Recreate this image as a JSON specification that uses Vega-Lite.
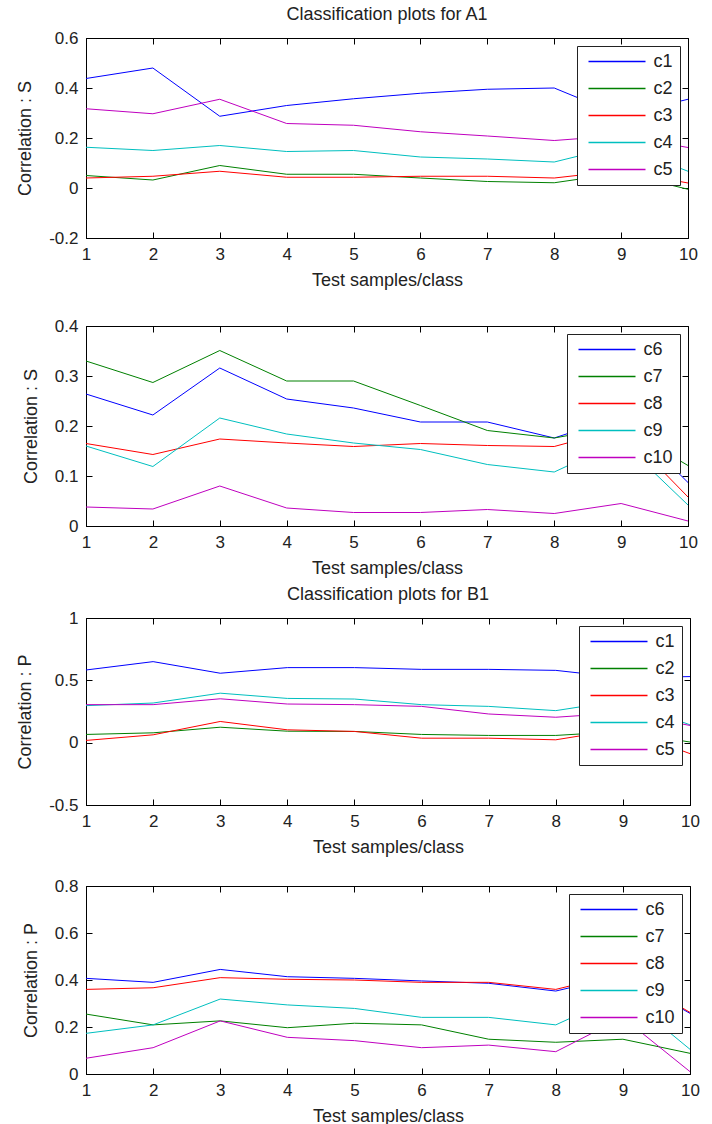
{
  "$schema": "https://vega.github.io/schema/vega-lite/v6.json",
  "background": "white",
  "padding": {"left": 16, "top": 5, "right": 5, "bottom": 0},
  "datasets": {
    "a1": [
      {"sample":1,"cls":"c1","corr":0.438},{"sample":2,"cls":"c1","corr":0.48},{"sample":3,"cls":"c1","corr":0.287},{"sample":4,"cls":"c1","corr":0.33},{"sample":5,"cls":"c1","corr":0.357},{"sample":6,"cls":"c1","corr":0.379},{"sample":7,"cls":"c1","corr":0.395},{"sample":8,"cls":"c1","corr":0.40},{"sample":9,"cls":"c1","corr":0.29},{"sample":10,"cls":"c1","corr":0.355},
      {"sample":1,"cls":"c2","corr":0.05},{"sample":2,"cls":"c2","corr":0.032},{"sample":3,"cls":"c2","corr":0.09},{"sample":4,"cls":"c2","corr":0.055},{"sample":5,"cls":"c2","corr":0.055},{"sample":6,"cls":"c2","corr":0.04},{"sample":7,"cls":"c2","corr":0.026},{"sample":8,"cls":"c2","corr":0.021},{"sample":9,"cls":"c2","corr":0.06},{"sample":10,"cls":"c2","corr":-0.005},
      {"sample":1,"cls":"c3","corr":0.04},{"sample":2,"cls":"c3","corr":0.047},{"sample":3,"cls":"c3","corr":0.067},{"sample":4,"cls":"c3","corr":0.043},{"sample":5,"cls":"c3","corr":0.043},{"sample":6,"cls":"c3","corr":0.047},{"sample":7,"cls":"c3","corr":0.047},{"sample":8,"cls":"c3","corr":0.04},{"sample":9,"cls":"c3","corr":0.07},{"sample":10,"cls":"c3","corr":0.02},
      {"sample":1,"cls":"c4","corr":0.163},{"sample":2,"cls":"c4","corr":0.15},{"sample":3,"cls":"c4","corr":0.17},{"sample":4,"cls":"c4","corr":0.146},{"sample":5,"cls":"c4","corr":0.15},{"sample":6,"cls":"c4","corr":0.124},{"sample":7,"cls":"c4","corr":0.116},{"sample":8,"cls":"c4","corr":0.104},{"sample":9,"cls":"c4","corr":0.17},{"sample":10,"cls":"c4","corr":0.067},
      {"sample":1,"cls":"c5","corr":0.317},{"sample":2,"cls":"c5","corr":0.297},{"sample":3,"cls":"c5","corr":0.355},{"sample":4,"cls":"c5","corr":0.258},{"sample":5,"cls":"c5","corr":0.251},{"sample":6,"cls":"c5","corr":0.225},{"sample":7,"cls":"c5","corr":0.208},{"sample":8,"cls":"c5","corr":0.19},{"sample":9,"cls":"c5","corr":0.21},{"sample":10,"cls":"c5","corr":0.162}
    ],
    "a1b": [
      {"sample":1,"cls":"c6","corr":0.264},{"sample":2,"cls":"c6","corr":0.222},{"sample":3,"cls":"c6","corr":0.316},{"sample":4,"cls":"c6","corr":0.254},{"sample":5,"cls":"c6","corr":0.236},{"sample":6,"cls":"c6","corr":0.208},{"sample":7,"cls":"c6","corr":0.208},{"sample":8,"cls":"c6","corr":0.176},{"sample":9,"cls":"c6","corr":0.22},{"sample":10,"cls":"c6","corr":0.087},
      {"sample":1,"cls":"c7","corr":0.33},{"sample":2,"cls":"c7","corr":0.287},{"sample":3,"cls":"c7","corr":0.351},{"sample":4,"cls":"c7","corr":0.29},{"sample":5,"cls":"c7","corr":0.29},{"sample":6,"cls":"c7","corr":0.241},{"sample":7,"cls":"c7","corr":0.191},{"sample":8,"cls":"c7","corr":0.176},{"sample":9,"cls":"c7","corr":0.20},{"sample":10,"cls":"c7","corr":0.121},
      {"sample":1,"cls":"c8","corr":0.165},{"sample":2,"cls":"c8","corr":0.143},{"sample":3,"cls":"c8","corr":0.174},{"sample":4,"cls":"c8","corr":0.166},{"sample":5,"cls":"c8","corr":0.159},{"sample":6,"cls":"c8","corr":0.165},{"sample":7,"cls":"c8","corr":0.161},{"sample":8,"cls":"c8","corr":0.159},{"sample":9,"cls":"c8","corr":0.195},{"sample":10,"cls":"c8","corr":0.058},
      {"sample":1,"cls":"c9","corr":0.16},{"sample":2,"cls":"c9","corr":0.119},{"sample":3,"cls":"c9","corr":0.216},{"sample":4,"cls":"c9","corr":0.184},{"sample":5,"cls":"c9","corr":0.166},{"sample":6,"cls":"c9","corr":0.153},{"sample":7,"cls":"c9","corr":0.123},{"sample":8,"cls":"c9","corr":0.108},{"sample":9,"cls":"c9","corr":0.17},{"sample":10,"cls":"c9","corr":0.042},
      {"sample":1,"cls":"c10","corr":0.038},{"sample":2,"cls":"c10","corr":0.034},{"sample":3,"cls":"c10","corr":0.08},{"sample":4,"cls":"c10","corr":0.036},{"sample":5,"cls":"c10","corr":0.027},{"sample":6,"cls":"c10","corr":0.027},{"sample":7,"cls":"c10","corr":0.033},{"sample":8,"cls":"c10","corr":0.025},{"sample":9,"cls":"c10","corr":0.045},{"sample":10,"cls":"c10","corr":0.01}
    ],
    "b1": [
      {"sample":1,"cls":"c1","corr":0.583},{"sample":2,"cls":"c1","corr":0.65},{"sample":3,"cls":"c1","corr":0.557},{"sample":4,"cls":"c1","corr":0.602},{"sample":5,"cls":"c1","corr":0.602},{"sample":6,"cls":"c1","corr":0.588},{"sample":7,"cls":"c1","corr":0.588},{"sample":8,"cls":"c1","corr":0.58},{"sample":9,"cls":"c1","corr":0.52},{"sample":10,"cls":"c1","corr":0.53},
      {"sample":1,"cls":"c2","corr":0.066},{"sample":2,"cls":"c2","corr":0.079},{"sample":3,"cls":"c2","corr":0.124},{"sample":4,"cls":"c2","corr":0.092},{"sample":5,"cls":"c2","corr":0.09},{"sample":6,"cls":"c2","corr":0.066},{"sample":7,"cls":"c2","corr":0.058},{"sample":8,"cls":"c2","corr":0.058},{"sample":9,"cls":"c2","corr":0.09},{"sample":10,"cls":"c2","corr":0.005},
      {"sample":1,"cls":"c3","corr":0.018},{"sample":2,"cls":"c3","corr":0.063},{"sample":3,"cls":"c3","corr":0.17},{"sample":4,"cls":"c3","corr":0.103},{"sample":5,"cls":"c3","corr":0.09},{"sample":6,"cls":"c3","corr":0.036},{"sample":7,"cls":"c3","corr":0.036},{"sample":8,"cls":"c3","corr":0.023},{"sample":9,"cls":"c3","corr":0.11},{"sample":10,"cls":"c3","corr":-0.088},
      {"sample":1,"cls":"c4","corr":0.297},{"sample":2,"cls":"c4","corr":0.318},{"sample":3,"cls":"c4","corr":0.397},{"sample":4,"cls":"c4","corr":0.355},{"sample":5,"cls":"c4","corr":0.35},{"sample":6,"cls":"c4","corr":0.305},{"sample":7,"cls":"c4","corr":0.291},{"sample":8,"cls":"c4","corr":0.257},{"sample":9,"cls":"c4","corr":0.34},{"sample":10,"cls":"c4","corr":0.143},
      {"sample":1,"cls":"c5","corr":0.305},{"sample":2,"cls":"c5","corr":0.305},{"sample":3,"cls":"c5","corr":0.352},{"sample":4,"cls":"c5","corr":0.31},{"sample":5,"cls":"c5","corr":0.305},{"sample":6,"cls":"c5","corr":0.291},{"sample":7,"cls":"c5","corr":0.23},{"sample":8,"cls":"c5","corr":0.204},{"sample":9,"cls":"c5","corr":0.24},{"sample":10,"cls":"c5","corr":0.138}
    ],
    "b1b": [
      {"sample":1,"cls":"c6","corr":0.407},{"sample":2,"cls":"c6","corr":0.39},{"sample":3,"cls":"c6","corr":0.445},{"sample":4,"cls":"c6","corr":0.414},{"sample":5,"cls":"c6","corr":0.407},{"sample":6,"cls":"c6","corr":0.396},{"sample":7,"cls":"c6","corr":0.386},{"sample":8,"cls":"c6","corr":0.353},{"sample":9,"cls":"c6","corr":0.42},{"sample":10,"cls":"c6","corr":0.258},
      {"sample":1,"cls":"c7","corr":0.255},{"sample":2,"cls":"c7","corr":0.209},{"sample":3,"cls":"c7","corr":0.226},{"sample":4,"cls":"c7","corr":0.197},{"sample":5,"cls":"c7","corr":0.216},{"sample":6,"cls":"c7","corr":0.209},{"sample":7,"cls":"c7","corr":0.148},{"sample":8,"cls":"c7","corr":0.135},{"sample":9,"cls":"c7","corr":0.148},{"sample":10,"cls":"c7","corr":0.088},
      {"sample":1,"cls":"c8","corr":0.36},{"sample":2,"cls":"c8","corr":0.367},{"sample":3,"cls":"c8","corr":0.41},{"sample":4,"cls":"c8","corr":0.403},{"sample":5,"cls":"c8","corr":0.4},{"sample":6,"cls":"c8","corr":0.39},{"sample":7,"cls":"c8","corr":0.39},{"sample":8,"cls":"c8","corr":0.36},{"sample":9,"cls":"c8","corr":0.43},{"sample":10,"cls":"c8","corr":0.262},
      {"sample":1,"cls":"c9","corr":0.173},{"sample":2,"cls":"c9","corr":0.209},{"sample":3,"cls":"c9","corr":0.319},{"sample":4,"cls":"c9","corr":0.294},{"sample":5,"cls":"c9","corr":0.279},{"sample":6,"cls":"c9","corr":0.241},{"sample":7,"cls":"c9","corr":0.241},{"sample":8,"cls":"c9","corr":0.209},{"sample":9,"cls":"c9","corr":0.34},{"sample":10,"cls":"c9","corr":0.105},
      {"sample":1,"cls":"c10","corr":0.067},{"sample":2,"cls":"c10","corr":0.112},{"sample":3,"cls":"c10","corr":0.226},{"sample":4,"cls":"c10","corr":0.156},{"sample":5,"cls":"c10","corr":0.142},{"sample":6,"cls":"c10","corr":0.112},{"sample":7,"cls":"c10","corr":0.123},{"sample":8,"cls":"c10","corr":0.095},{"sample":9,"cls":"c10","corr":0.24},{"sample":10,"cls":"c10","corr":0.01}
    ]
  },
  "resolve": {"scale": {"color": "independent"}, "legend": {"color": "independent"}},
  "spacing": 7,
  "vconcat": [
    {
      "spacing": 26,
      "resolve": {"scale": {"color": "independent"}, "legend": {"color": "independent"}},
      "vconcat": [
        {
          "data": {"name": "a1"},
          "title": {"text": "Classification plots for A1"},
          "width": 602, "height": 200,
          "resolve": {"axis": {"x": "independent", "y": "independent"}},
          "layer": [
            {
              "mark": {"type": "line", "strokeWidth": 1},
              "encoding": {
                "x": {"field": "sample", "type": "quantitative", "scale": {"domain": [1, 10], "nice": false, "zero": false}, "axis": {"values": [1,2,3,4,5,6,7,8,9,10], "title": "Test samples/class"}},
                "y": {"field": "corr", "type": "quantitative", "scale": {"domain": [-0.2, 0.6], "nice": false, "zero": false}, "axis": {"values": [-0.2, 0, 0.2, 0.4, 0.6], "title": "Correlation : S"}},
                "color": {"field": "cls", "type": "nominal", "scale": {"domain": ["c1","c2","c3","c4","c5"], "range": ["#0000ff","#008000","#ff0000","#00bfbf","#bf00bf"]}, "legend": {"title": null}}
              }
            },
            {
              "mark": {"type": "point", "opacity": 0},
              "encoding": {
                "x": {"field": "sample", "type": "quantitative", "scale": {"domain": [1, 10], "nice": false, "zero": false}, "axis": {"orient": "top", "values": [1,2,3,4,5,6,7,8,9,10], "labels": false, "title": null, "domain": false}},
                "y": {"field": "corr", "type": "quantitative", "scale": {"domain": [-0.2, 0.6], "nice": false, "zero": false}, "axis": {"orient": "right", "values": [-0.2, 0, 0.2, 0.4, 0.6], "labels": false, "title": null, "domain": false}}
              }
            }
          ]
        },
        {
          "data": {"name": "a1b"},
          "width": 602, "height": 200,
          "resolve": {"axis": {"x": "independent", "y": "independent"}},
          "layer": [
            {
              "mark": {"type": "line", "strokeWidth": 1},
              "encoding": {
                "x": {"field": "sample", "type": "quantitative", "scale": {"domain": [1, 10], "nice": false, "zero": false}, "axis": {"values": [1,2,3,4,5,6,7,8,9,10], "title": "Test samples/class"}},
                "y": {"field": "corr", "type": "quantitative", "scale": {"domain": [0, 0.4], "nice": false, "zero": false}, "axis": {"values": [0, 0.1, 0.2, 0.3, 0.4], "title": "Correlation : S"}},
                "color": {"field": "cls", "type": "nominal", "scale": {"domain": ["c6","c7","c8","c9","c10"], "range": ["#0000ff","#008000","#ff0000","#00bfbf","#bf00bf"]}, "legend": {"title": null}}
              }
            },
            {
              "mark": {"type": "point", "opacity": 0},
              "encoding": {
                "x": {"field": "sample", "type": "quantitative", "scale": {"domain": [1, 10], "nice": false, "zero": false}, "axis": {"orient": "top", "values": [1,2,3,4,5,6,7,8,9,10], "labels": false, "title": null, "domain": false}},
                "y": {"field": "corr", "type": "quantitative", "scale": {"domain": [0, 0.4], "nice": false, "zero": false}, "axis": {"orient": "right", "values": [0, 0.1, 0.2, 0.3, 0.4], "labels": false, "title": null, "domain": false}}
              }
            }
          ]
        }
      ]
    },
    {
      "spacing": 19,
      "resolve": {"scale": {"color": "independent"}, "legend": {"color": "independent"}},
      "vconcat": [
        {
          "data": {"name": "b1"},
          "title": {"text": "Classification plots for B1"},
          "width": 604, "height": 187,
          "resolve": {"axis": {"x": "independent", "y": "independent"}},
          "layer": [
            {
              "mark": {"type": "line", "strokeWidth": 1},
              "encoding": {
                "x": {"field": "sample", "type": "quantitative", "scale": {"domain": [1, 10], "nice": false, "zero": false}, "axis": {"values": [1,2,3,4,5,6,7,8,9,10], "title": "Test samples/class"}},
                "y": {"field": "corr", "type": "quantitative", "scale": {"domain": [-0.5, 1], "nice": false, "zero": false}, "axis": {"values": [-0.5, 0, 0.5, 1], "title": "Correlation : P"}},
                "color": {"field": "cls", "type": "nominal", "scale": {"domain": ["c1","c2","c3","c4","c5"], "range": ["#0000ff","#008000","#ff0000","#00bfbf","#bf00bf"]}, "legend": {"title": null}}
              }
            },
            {
              "mark": {"type": "point", "opacity": 0},
              "encoding": {
                "x": {"field": "sample", "type": "quantitative", "scale": {"domain": [1, 10], "nice": false, "zero": false}, "axis": {"orient": "top", "values": [1,2,3,4,5,6,7,8,9,10], "labels": false, "title": null, "domain": false}},
                "y": {"field": "corr", "type": "quantitative", "scale": {"domain": [-0.5, 1], "nice": false, "zero": false}, "axis": {"orient": "right", "values": [-0.5, 0, 0.5, 1], "labels": false, "title": null, "domain": false}}
              }
            }
          ]
        },
        {
          "data": {"name": "b1b"},
          "width": 604, "height": 188,
          "resolve": {"axis": {"x": "independent", "y": "independent"}},
          "layer": [
            {
              "mark": {"type": "line", "strokeWidth": 1},
              "encoding": {
                "x": {"field": "sample", "type": "quantitative", "scale": {"domain": [1, 10], "nice": false, "zero": false}, "axis": {"values": [1,2,3,4,5,6,7,8,9,10], "title": "Test samples/class"}},
                "y": {"field": "corr", "type": "quantitative", "scale": {"domain": [0, 0.8], "nice": false, "zero": false}, "axis": {"values": [0, 0.2, 0.4, 0.6, 0.8], "title": "Correlation : P"}},
                "color": {"field": "cls", "type": "nominal", "scale": {"domain": ["c6","c7","c8","c9","c10"], "range": ["#0000ff","#008000","#ff0000","#00bfbf","#bf00bf"]}, "legend": {"title": null}}
              }
            },
            {
              "mark": {"type": "point", "opacity": 0},
              "encoding": {
                "x": {"field": "sample", "type": "quantitative", "scale": {"domain": [1, 10], "nice": false, "zero": false}, "axis": {"orient": "top", "values": [1,2,3,4,5,6,7,8,9,10], "labels": false, "title": null, "domain": false}},
                "y": {"field": "corr", "type": "quantitative", "scale": {"domain": [0, 0.8], "nice": false, "zero": false}, "axis": {"orient": "right", "values": [0, 0.2, 0.4, 0.6, 0.8], "labels": false, "title": null, "domain": false}}
              }
            }
          ]
        }
      ]
    }
  ],
  "config": {
    "font": "Liberation Sans, Arial, sans-serif",
    "view": {"stroke": "#000", "strokeWidth": 1},
    "title": {"font": "Liberation Sans, Arial, sans-serif", "fontSize": 18, "fontWeight": "normal", "color": "#222", "offset": 5, "frame": "group"},
    "axis": {
      "grid": false,
      "domainColor": "#000",
      "tickColor": "#000",
      "tickSize": -6,
      "labelPadding": 14,
      "labelFont": "Liberation Sans, Arial, sans-serif",
      "labelFontSize": 17,
      "labelColor": "#222",
      "labelFlush": false,
      "labelOverlap": false,
      "labelExpr": "replace(format(datum.value, '~g'), '\u2212', '-')",
      "titleFont": "Liberation Sans, Arial, sans-serif",
      "titleFontSize": 18,
      "titleFontWeight": "normal",
      "titleColor": "#222"
    },
    "axisX": {"titlePadding": 9},
    "axisY": {"titlePadding": 14},
    "legend": {
      "orient": "top-right",
      "offset": 8,
      "symbolType": "stroke",
      "symbolSize": 3249,
      "symbolStrokeWidth": 1.5,
      "symbolOpacity": 1,
      "clipHeight": 18,
      "rowPadding": 9,
      "padding": 6.5,
      "symbolOffset": 4,
      "labelOffset": 7,
      "labelFont": "Liberation Sans, Arial, sans-serif",
      "labelFontSize": 18,
      "labelColor": "#222",
      "strokeColor": "#222",
      "fillColor": "#ffffff",
      "cornerRadius": 0
    }
  }
}
